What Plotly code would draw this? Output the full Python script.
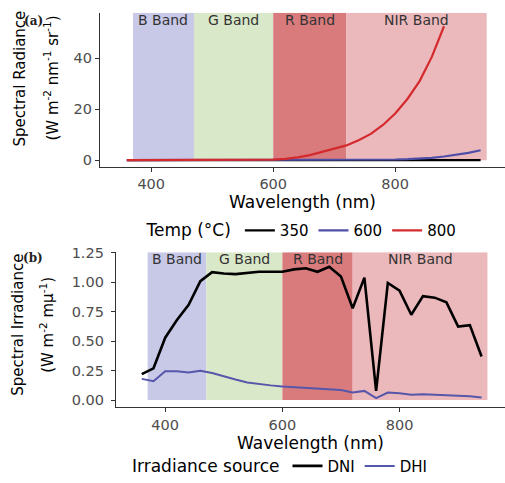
import plotly.graph_objects as go

# ---------------- data ----------------
wavelength = [360, 380, 400, 420, 440, 460, 480, 500, 520, 540, 560, 580, 600, 620, 640,
              660, 680, 700, 720, 740, 760, 780, 800, 820, 840, 860, 880, 900, 920, 940]

temp_labels = ["350", "600", "800"]
radiance_350 = [0.0, 0.0, 0.0, 0.0, 0.0, 0.0, 0.0, 0.0, 0.0, 0.0, 0.0, 0.0, 0.0, 0.0, 0.0,
                0.0, 0.0, 0.0, 0.0, 0.0, 0.0, 0.0, 0.0, 0.0, 0.0, 0.0, 0.0, 0.0, 0.0, 0.0]
radiance_600 = [0.0, 0.0, 0.0, 0.0, 0.0, 0.0, 0.0, 0.0, 0.0, 0.0, 0.0, 0.0, 0.0, 0.0, 0.0,
                0.0, 0.0, 0.0, 0.05, 0.08, 0.12, 0.18, 0.27, 0.4, 0.6, 0.9, 1.45, 2.1, 2.9, 3.9]
radiance_800 = [0.0, 0.0, 0.0, 0.0, 0.0, 0.0, 0.0, 0.0, 0.0, 0.0, 0.0, 0.08, 0.2, 0.5, 1.1,
                2.0, 3.2, 4.4, 5.8, 7.8, 10.3, 13.8, 18.3, 24.0, 31.0, 40.5, 52.5, None, None, None]

source_labels = ["DNI", "DHI"]
dni = [0.22, 0.27, 0.53, 0.68, 0.81, 1.01, 1.087, 1.075, 1.07, 1.08, 1.09, 1.09, 1.09, 1.11, 1.12,
       1.09, 1.133, 1.05, 0.78, 1.04, 0.078, 0.995, 0.93, 0.725, 0.883, 0.87, 0.83, 0.625, 0.637, 0.37]
dhi = [0.18, 0.16, 0.245, 0.245, 0.235, 0.25, 0.23, 0.20, 0.175, 0.15, 0.135, 0.125, 0.115, 0.11, 0.105,
       0.10, 0.095, 0.085, 0.065, 0.078, 0.017, 0.064, 0.058, 0.045, 0.05, 0.048, 0.042, 0.037, 0.033, 0.022]

band_names = ["B Band", "G Band", "R Band", "NIR Band"]
band_start = [370, 470, 600, 720]
band_end = [470, 600, 720, 950]

x_title = "Wavelength (nm)"
x_ticks = [400, 600, 800]
top_y_ticks = [0, 20, 40]
bottom_y_ticks = [0, 0.25, 0.5, 0.75, 1.0, 1.25]
bottom_y_ticklabels = ["0.00", "0.25", "0.50", "0.75", "1.00", "1.25"]

# ---------------- styles ----------------
band_colors = ["#c8c8e7", "#d9e8c9", "#d97b7d", "#ebb9bc"]
temp_colors = ["#000000", "#4f4fa8", "#d42a2e"]
source_colors = ["#000000", "#5656aa"]
SANS = "DejaVu Sans"
W, H = 505, 483

top_yr = [-2.6, 57.8]
bot_yr = [-0.061, 1.256]
x_range = [316, 980]

fig = go.Figure()

for lab, vals, col in zip(temp_labels, [radiance_350, radiance_600, radiance_800], temp_colors):
    fig.add_trace(go.Scatter(x=wavelength, y=vals, mode="lines", name=lab,
                             line=dict(color=col, width=2.2), xaxis="x", yaxis="y",
                             legend="legend", connectgaps=False))

for lab, vals, col, w in zip(source_labels, [dni, dhi], source_colors, [2.6, 2.0]):
    fig.add_trace(go.Scatter(x=wavelength, y=vals, mode="lines", name=lab,
                             line=dict(color=col, width=w), xaxis="x2", yaxis="y2",
                             legend="legend2"))

shapes = []
annotations = []
band_font = dict(family=SANS, size=14, color="#333333")
for name, s, e, c in zip(band_names, band_start, band_end, band_colors):
    shapes.append(dict(type="rect", xref="x", yref="y", x0=s, x1=e, y0=0, y1=top_yr[1],
                       fillcolor=c, line=dict(width=0), layer="below"))
    shapes.append(dict(type="rect", xref="x2", yref="y2", x0=s, x1=e, y0=0, y1=bot_yr[1],
                       fillcolor=c, line=dict(width=0), layer="below"))
    annotations.append(dict(xref="x", yref="y", x=(s + e) / 2, y=55.1, text=name, showarrow=False,
                            xanchor="center", yanchor="middle", font=band_font))
    annotations.append(dict(xref="x2", yref="y2", x=(s + e) / 2, y=1.197, text=name, showarrow=False,
                            xanchor="center", yanchor="middle", font=band_font))


def px_x(p):
    return p / W


def px_y(p):
    return 1 - p / H


def note(xp, yp, text, font, angle=0):
    return dict(xref="paper", yref="paper", x=px_x(xp), y=px_y(yp), text=text,
                textangle=angle, showarrow=False, xanchor="center", yanchor="middle", font=font)


title_font = dict(family=SANS, size=15, color="#000000")
xtitle_font = dict(family=SANS, size=17, color="#000000")
panel_font = dict(family="DejaVu Serif", size=12, color="#222222")
annotations += [
    note(20, 80, "Spectral Radiance", title_font, -90),
    note(51, 80, "(W m<sup>-2</sup> nm<sup>-1</sup> sr<sup>-1</sup>)", title_font, -90),
    note(18, 331, "Spectral Irradiance", title_font, -90),
    note(47, 331, "(W m<sup>-2</sup> mμ<sup>-1</sup>)", title_font, -90),
    note(33, 21, "<b>(a)</b>", panel_font),
    note(33, 263, "<b>(b)</b>", panel_font),
]

axis_common = dict(showline=True, linecolor="#333333", linewidth=1.3, ticks="outside",
                   ticklen=4, tickwidth=1.2, tickcolor="#333333", showgrid=False, zeroline=False,
                   tickfont=dict(family=SANS, size=14.5, color="#4d4d4d"))
xtitle = dict(text=x_title, font=xtitle_font, standoff=2)

legend_common = dict(orientation="h", xanchor="center", yanchor="middle", itemwidth=30,
                     font=dict(family=SANS, size=15, color="#000000"), bgcolor="rgba(0,0,0,0)")

fig.update_layout(
    width=W, height=H, margin=dict(l=0, r=0, t=0, b=0),
    paper_bgcolor="white", plot_bgcolor="white",
    xaxis=dict(domain=[100 / W, 1], range=x_range, anchor="y", tickvals=x_ticks,
               title=xtitle, automargin=False, **axis_common),
    yaxis=dict(domain=[px_y(170), px_y(13)], range=top_yr, anchor="x", tickvals=top_y_ticks,
               automargin=False, **axis_common),
    xaxis2=dict(domain=[116 / W, 1], range=x_range, anchor="y2", tickvals=x_ticks,
                title=xtitle, automargin=False, **axis_common),
    yaxis2=dict(domain=[px_y(415), px_y(257)], range=bot_yr, anchor="x2", tickvals=bottom_y_ticks,
                ticktext=bottom_y_ticklabels, ticklabelstandoff=4, automargin=False, **axis_common),
    legend=dict(x=px_x(303), y=px_y(235),
                title=dict(text="Temp (°C)", side="left",
                           font=dict(family=SANS, size=17, color="#000000")),
                **legend_common),
    legend2=dict(x=px_x(281), y=px_y(475),
                 title=dict(text="Irradiance source", side="left",
                            font=dict(family=SANS, size=17, color="#000000")),
                 **legend_common),
    shapes=shapes, annotations=annotations, showlegend=True,
)

fig.write_html("out.html", config={"displayModeBar": False},
               post_script="document.body.style.margin='0';document.body.style.padding='0';")
